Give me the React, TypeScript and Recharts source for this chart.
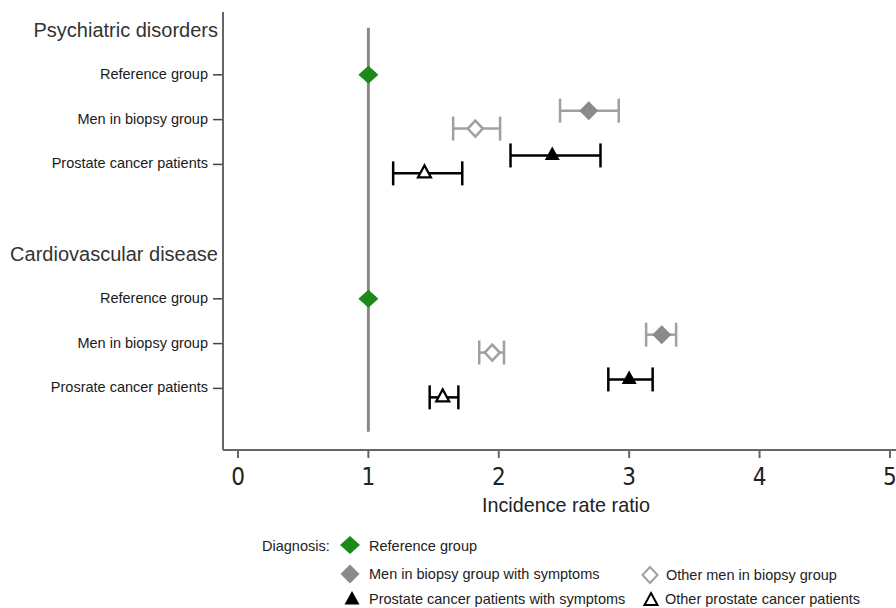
import { ScatterChart, Scatter, XAxis, YAxis, ErrorBar, ReferenceLine } from "recharts";

const sections = ["Psychiatric disorders", "Cardiovascular disease"];
const rowLabels = [
  ["Reference group", "Men in biopsy group", "Prostate cancer patients"],
  ["Reference group", "Men in biopsy group", "Prosrate cancer patients"],
];
const xTicks = [0, 1, 2, 3, 4, 5];
const yTicks = [0, 1, 2, 3, 5, 6, 7, 8];

// incidence rate ratios, [psychiatric, cardiovascular]
const refIrr = [1, 1];
const menSymIrr = [2.69, 3.25];
const menSymLo = [2.47, 3.13];
const menSymHi = [2.92, 3.36];
const menOtherIrr = [1.82, 1.95];
const menOtherLo = [1.65, 1.85];
const menOtherHi = [2.01, 2.04];
const prostSymIrr = [2.41, 3.0];
const prostSymLo = [2.09, 2.84];
const prostSymHi = [2.78, 3.18];
const prostOtherIrr = [1.43, 1.57];
const prostOtherLo = [1.19, 1.47];
const prostOtherHi = [1.72, 1.69];

const build = (irr: number[], lo: number[] | null, hi: number[] | null, row: number, offset: number) =>
  irr.map((v, s) => ({
    irr: v,
    pos: s * 5 + 1 + row + offset,
    err: lo && hi ? [v - lo[s], hi[s] - v] : [0, 0],
  }));

const refData = build(refIrr, null, null, 0, 0);
const menSymData = build(menSymIrr, menSymLo, menSymHi, 1, -0.2);
const menOtherData = build(menOtherIrr, menOtherLo, menOtherHi, 1, 0.2);
const prostSymData = build(prostSymIrr, prostSymLo, prostSymHi, 2, -0.2);
const prostOtherData = build(prostOtherIrr, prostOtherLo, prostOtherHi, 2, 0.2);

const FONT = "'Liberation Sans', Arial, sans-serif";
const NARROW = "'Liberation Sans Narrow', 'Arial Narrow', 'DejaVu Sans Condensed', sans-serif";
const GREEN = "#1a8a1a";
const GRAY = "#8a8a8a";
const LIGHT = "#a0a0a0";

const diamond = (cx: number, cy: number, w: number, h: number) =>
  `${cx},${cy - h / 2} ${cx + w / 2},${cy} ${cx},${cy + h / 2} ${cx - w / 2},${cy}`;
const triangle = (cx: number, cy: number, w: number, up: number, down: number) =>
  `${cx},${cy - up} ${cx + w / 2},${cy + down} ${cx - w / 2},${cy + down}`;

const RefShape = (p: any) => <polygon points={diamond(p.cx, p.cy, 20, 18)} fill={GREEN} />;
const MenSymShape = (p: any) => <polygon points={diamond(p.cx, p.cy, 19, 19)} fill={GRAY} />;
const MenOtherShape = (p: any) => (
  <polygon points={diamond(p.cx, p.cy, 15, 16)} fill="#fff" stroke={LIGHT} strokeWidth={2.5} />
);
const ProstSymShape = (p: any) => <polygon points={triangle(p.cx, p.cy, 15, 9, 4.5)} fill="#000" />;
const ProstOtherShape = (p: any) => (
  <polygon points={triangle(p.cx, p.cy, 13, 8, 4)} fill="#fff" stroke="#000" strokeWidth={2.2} />
);

const YTick = (props: any) => {
  const { y, payload } = props;
  const v = payload.value as number;
  const s = Math.floor(v / 5);
  const r = v - s * 5;
  if (r === 0) {
    return (
      <text x={218} y={y} textAnchor="end" dominantBaseline="central" fontSize={20} fill="#333" fontFamily={FONT}>
        {sections[s]}
      </text>
    );
  }
  return (
    <g>
      <line x1={213} x2={222} y1={y} y2={y} stroke="#444" strokeWidth={1.5} />
      <text x={208} y={y - 1} textAnchor="end" dominantBaseline="central" fontSize={14.5} fill="#1a1a1a" fontFamily={FONT}>
        {rowLabels[s][r - 1]}
      </text>
    </g>
  );
};

const XLabel = (props: any) => {
  const vb = props.viewBox;
  return (
    <text
      x={vb.x + vb.width / 2 + 3}
      y={504}
      textAnchor="middle"
      dominantBaseline="central"
      fontSize={21}
      fill="#222"
      fontFamily={FONT}
      textLength={168}
      lengthAdjust="spacingAndGlyphs"
    >
      Incidence rate ratio
    </text>
  );
};

const legendText: React.CSSProperties = {
  position: "absolute",
  fontFamily: FONT,
  fontSize: 14.5,
  lineHeight: "18px",
  color: "#222",
  whiteSpace: "nowrap",
};

const Icon = ({ x, y, children }: { x: number; y: number; children: React.ReactNode }) => (
  <svg width={24} height={24} style={{ position: "absolute", left: x - 12, top: y - 12 }}>
    {children}
  </svg>
);

export default function App() {
  return (
    <div style={{ position: "absolute", left: 0, top: 0, width: 896, height: 608, overflow: "hidden", background: "#fff" }}>
      <ScatterChart width={910} height={520} margin={{ top: 12, right: 7, bottom: 0, left: 0 }}>
        <XAxis
          type="number"
          dataKey="irr"
          domain={[-0.115, 5.1]}
          ticks={xTicks}
          allowDataOverflow
          stroke="#666"
          strokeWidth={2}
          tickSize={8}
          tickMargin={10}
          height={70}
          tick={{ fontSize: 24, fill: "#222", fontFamily: NARROW }}
          label={<XLabel />}
        />
        <YAxis
          type="number"
          dataKey="pos"
          domain={[-0.402, 9.375]}
          reversed
          ticks={yTicks}
          allowDataOverflow
          width={223}
          stroke="#666"
          strokeWidth={2}
          tickLine={false}
          tick={<YTick />}
        />
        <ReferenceLine
          segment={[
            { x: 1, y: -0.05 },
            { x: 1, y: 8.97 },
          ]}
          stroke={GRAY}
          strokeWidth={3}
        />
        <Scatter data={menSymData} shape={<MenSymShape />} isAnimationActive={false}>
          <ErrorBar dataKey="err" direction="x" width={12} stroke={LIGHT} strokeWidth={2.5} isAnimationActive={false} />
        </Scatter>
        <Scatter data={menOtherData} shape={<MenOtherShape />} isAnimationActive={false}>
          <ErrorBar dataKey="err" direction="x" width={12} stroke={LIGHT} strokeWidth={2.5} isAnimationActive={false} />
        </Scatter>
        <Scatter data={prostSymData} shape={<ProstSymShape />} isAnimationActive={false}>
          <ErrorBar dataKey="err" direction="x" width={12} stroke="#000" strokeWidth={2.5} isAnimationActive={false} />
        </Scatter>
        <Scatter data={prostOtherData} shape={<ProstOtherShape />} isAnimationActive={false}>
          <ErrorBar dataKey="err" direction="x" width={12} stroke="#000" strokeWidth={2.5} isAnimationActive={false} />
        </Scatter>
        <Scatter data={refData} shape={<RefShape />} isAnimationActive={false} />
      </ScatterChart>

      <div style={{ ...legendText, left: 262, top: 537 }}>Diagnosis:</div>
      <Icon x={350} y={545}>
        <polygon points={diamond(12, 12, 20, 18)} fill={GREEN} />
      </Icon>
      <div style={{ ...legendText, left: 369, top: 537 }}>Reference group</div>
      <Icon x={350} y={574}>
        <polygon points={diamond(12, 12, 19, 19)} fill={GRAY} />
      </Icon>
      <div style={{ ...legendText, left: 369, top: 565 }}>Men in biopsy group with symptoms</div>
      <Icon x={650} y={575}>
        <polygon points={diamond(12, 12, 15, 16)} fill="#fff" stroke={LIGHT} strokeWidth={2} />
      </Icon>
      <div style={{ ...legendText, left: 666, top: 566 }}>Other men in biopsy group</div>
      <Icon x={352} y={600}>
        <polygon points={triangle(12, 12, 15, 9, 4.5)} fill="#000" />
      </Icon>
      <div style={{ ...legendText, left: 369, top: 590 }}>Prostate cancer patients with symptoms</div>
      <Icon x={651} y={601}>
        <polygon points={triangle(12, 12, 13, 8, 4)} fill="#fff" stroke="#000" strokeWidth={2} />
      </Icon>
      <div style={{ ...legendText, left: 665, top: 590 }}>Other prostate cancer patients</div>
    </div>
  );
}
